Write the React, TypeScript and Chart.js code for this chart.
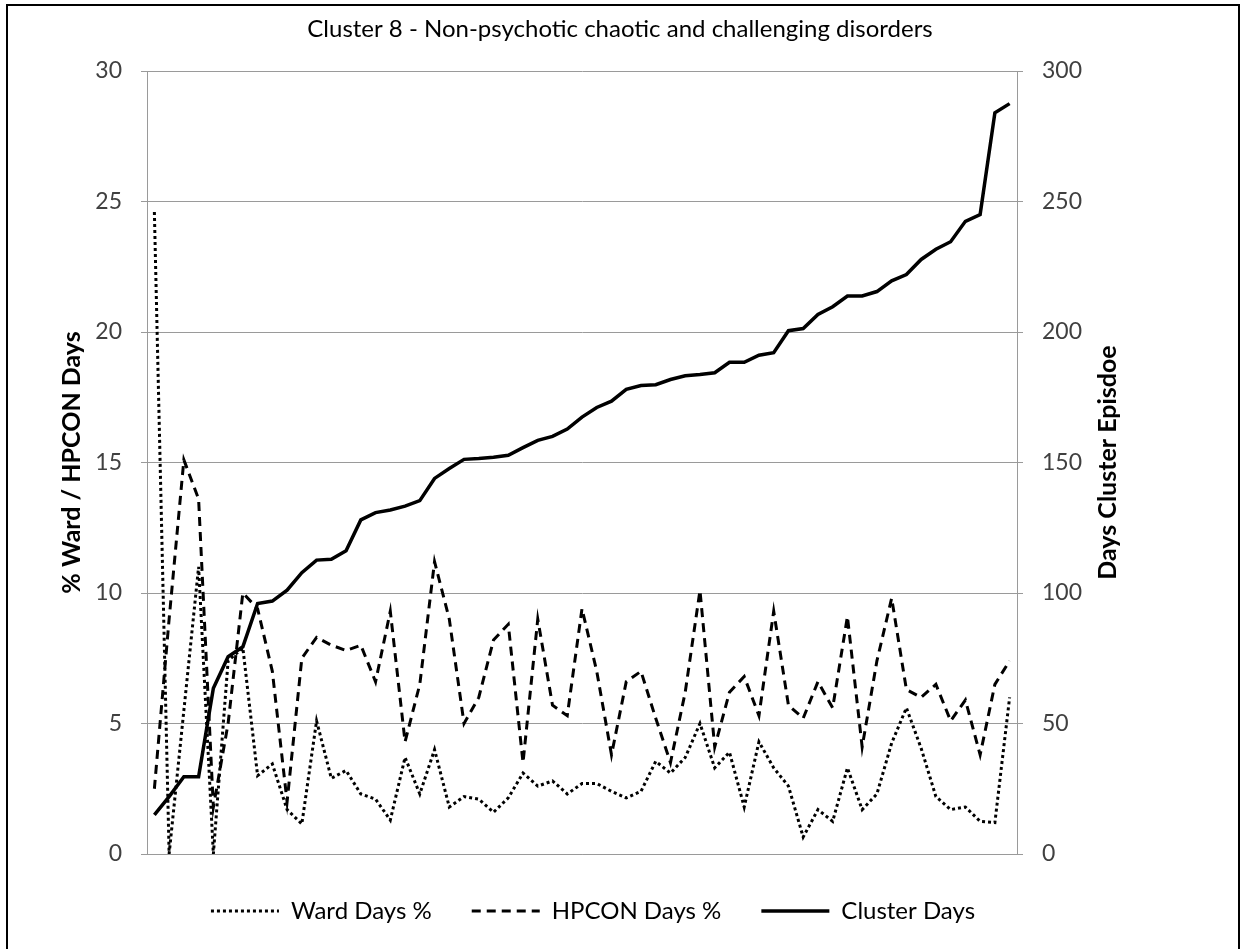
import React, { useEffect, useRef } from 'react';
import { Chart, registerables } from 'chart.js';

Chart.register(...registerables);

const chartTitle = 'Cluster 8 - Non-psychotic chaotic and challenging disorders';
const leftAxisTitle = '% Ward / HPCON Days';
const rightAxisTitle = 'Days Cluster Episdoe';

const categories = [
  '1', '2', '3', '4', '5', '6', '7', '8', '9', '10',
  '11', '12', '13', '14', '15', '16', '17', '18', '19', '20',
  '21', '22', '23', '24', '25', '26', '27', '28', '29', '30',
  '31', '32', '33', '34', '35', '36', '37', '38', '39', '40',
  '41', '42', '43', '44', '45', '46', '47', '48', '49', '50',
  '51', '52', '53', '54', '55', '56', '57', '58', '59',
];

const wardDaysPct = [
  24.6, 0.0, 5.5, 11.0, 0.0, 7.4, 7.9, 3.0, 3.45, 1.7,
  1.15, 5.1, 2.9, 3.2, 2.3, 2.1, 1.3, 3.7, 2.3, 4.0,
  1.8, 2.2, 2.1, 1.6, 2.15, 3.1, 2.6, 2.8, 2.3, 2.7,
  2.7, 2.4, 2.15, 2.4, 3.55, 3.1, 3.7, 5.0, 3.3, 3.9,
  1.8, 4.3, 3.3, 2.6, 0.65, 1.7, 1.25, 3.3, 1.7, 2.3,
  4.25, 5.6, 4.05, 2.2, 1.7, 1.8, 1.25, 1.2, 6.0,
];

const hpconDaysPct = [
  2.5, 9.0, 15.1, 13.6, 1.8, 5.0, 10.0, 9.4, 7.0, 2.0,
  7.5, 8.3, 8.0, 7.8, 8.0, 6.6, 9.3, 4.3, 6.5, 11.2,
  9.0, 5.0, 6.0, 8.2, 8.8, 3.5, 9.0, 5.7, 5.3, 9.4,
  7.0, 3.8, 6.6, 7.0, 5.2, 3.5, 6.2, 10.1, 4.1, 6.2,
  6.8, 5.3, 9.3, 5.7, 5.2, 6.6, 5.6, 9.1, 4.1, 7.4,
  9.8, 6.3, 6.0, 6.5, 5.1, 5.9, 3.8, 6.5, 7.4,
];

const clusterDays = [
  15, 22, 29.6, 29.6, 63.5, 75.6, 79.4, 96.0, 96.9, 101.1,
  107.8, 112.6, 112.9, 116.2, 128.0, 130.8, 131.8, 133.3, 135.4, 143.9,
  147.7, 151.2, 151.5, 152.0, 152.8, 155.7, 158.5, 160.0, 162.8, 167.4,
  171.1, 173.5, 178.0, 179.5, 179.8, 181.8, 183.2, 183.7, 184.4, 188.4,
  188.4, 191.1, 192.1, 200.5, 201.3, 206.7, 209.7, 213.8, 213.8, 215.5,
  219.6, 222.0, 227.8, 231.7, 234.6, 242.4, 245.0, 284.0, 287.5,
];

const FONT = 'Lato';
const GRID = '#9a9a9a';

const framePlugin = {
  id: 'frameAndRightTitle',
  afterLayout(chart: any) {
    const lg = chart.legend;
    if (lg) {
      lg.left -= 27;
      lg.right -= 27;
    }
  },
  afterDraw(chart: any) {
    const ctx = chart.ctx;
    const area = chart.chartArea;
    const y1 = chart.scales.y1;
    ctx.save();
    ctx.fillStyle = '#000';
    ctx.font = `bold 25px ${FONT}`;
    ctx.textAlign = 'center';
    ctx.textBaseline = 'middle';
    ctx.translate(y1.left + 91, (area.top + area.bottom) / 2);
    ctx.rotate(-Math.PI / 2);
    ctx.fillText(rightAxisTitle, 0, 0);
    ctx.restore();

    ctx.save();
    ctx.strokeStyle = '#000';
    ctx.lineWidth = 2;
    ctx.strokeRect(7, 5, 1232, 1000);
    ctx.restore();
  },
};

export default function App() {
  const ref = useRef<HTMLCanvasElement>(null);

  useEffect(() => {
    const canvas = ref.current;
    if (!canvas) return;
    const chart = new Chart(canvas, {
      type: 'line',
      data: {
        labels: categories,
        datasets: [
          {
            label: 'Ward Days %',
            data: wardDaysPct,
            yAxisID: 'y',
            borderColor: '#000',
            backgroundColor: '#000',
            borderWidth: 3,
            borderDash: [3, 3],
            pointRadius: 0,
            tension: 0,
          },
          {
            label: 'HPCON Days %',
            data: hpconDaysPct,
            yAxisID: 'y',
            borderColor: '#000',
            backgroundColor: '#000',
            borderWidth: 3,
            borderDash: [9, 6],
            pointRadius: 0,
            tension: 0,
          },
          {
            label: 'Cluster Days',
            data: clusterDays,
            yAxisID: 'y1',
            borderColor: '#000',
            backgroundColor: '#000',
            borderWidth: 3.5,
            pointRadius: 0,
            tension: 0,
          },
        ],
      },
      options: {
        responsive: false,
        animation: false,
        events: [],
        layout: { padding: { left: 0, right: 0, top: 0, bottom: 16 } },
        scales: {
          x: {
            type: 'category',
            offset: true,
            grid: { display: false, drawTicks: false },
            border: { display: true, color: GRID, width: 1 },
            ticks: { display: false },
            afterFit: (s: any) => {
              s.height = 5;
            },
          },
          y: {
            position: 'left',
            min: 0,
            max: 30,
            ticks: {
              stepSize: 5,
              font: { family: FONT, size: 23 },
              color: '#404040',
              padding: 19,
            },
            grid: { color: GRID, tickLength: 6, lineWidth: 1 },
            border: { color: GRID, width: 1 },
            title: {
              display: true,
              text: leftAxisTitle,
              font: { family: FONT, size: 25, weight: 'bold' },
              color: '#000',
              padding: { top: 57, bottom: 0 },
            },
            afterFit: (s: any) => {
              s.width = 147;
            },
          },
          y1: {
            position: 'right',
            min: 0,
            max: 300,
            ticks: {
              stepSize: 50,
              font: { family: FONT, size: 23 },
              color: '#404040',
              padding: 19,
            },
            grid: { drawOnChartArea: false, color: GRID, tickLength: 6 },
            border: { color: GRID, width: 1 },
            afterFit: (s: any) => {
              s.width = 223;
            },
          },
        },
        plugins: {
          title: {
            display: true,
            text: chartTitle,
            font: { family: FONT, size: 24, weight: 'normal' },
            color: '#000',
            padding: { top: 15, bottom: 27.2 },
          },
          legend: {
            position: 'bottom',
            labels: {
              usePointStyle: true,
              pointStyle: 'line',
              pointStyleWidth: 68,
              font: { family: FONT, size: 24 },
              color: '#000',
              padding: 40,
              generateLabels: (chart: any) => {
                const items = Chart.defaults.plugins.legend.labels.generateLabels(chart);
                return items.map((item: any) => {
                  const ds: any = chart.data.datasets[item.datasetIndex];
                  return {
                    ...item,
                    pointStyle: 'line',
                    lineDash: ds.borderDash || [],
                    lineWidth: ds.borderWidth,
                    strokeStyle: '#000',
                    fillStyle: '#000',
                  };
                });
              },
            },
          },
          tooltip: { enabled: false },
        },
      },
      plugins: [framePlugin],
    } as any);
    return () => chart.destroy();
  }, []);

  return (
    <div style={{ position: 'fixed', left: 0, top: 0, width: 1240, height: 949, background: '#fff' }}>
      <canvas ref={ref} width={1240} height={949} style={{ display: 'block' }} />
    </div>
  );
}
